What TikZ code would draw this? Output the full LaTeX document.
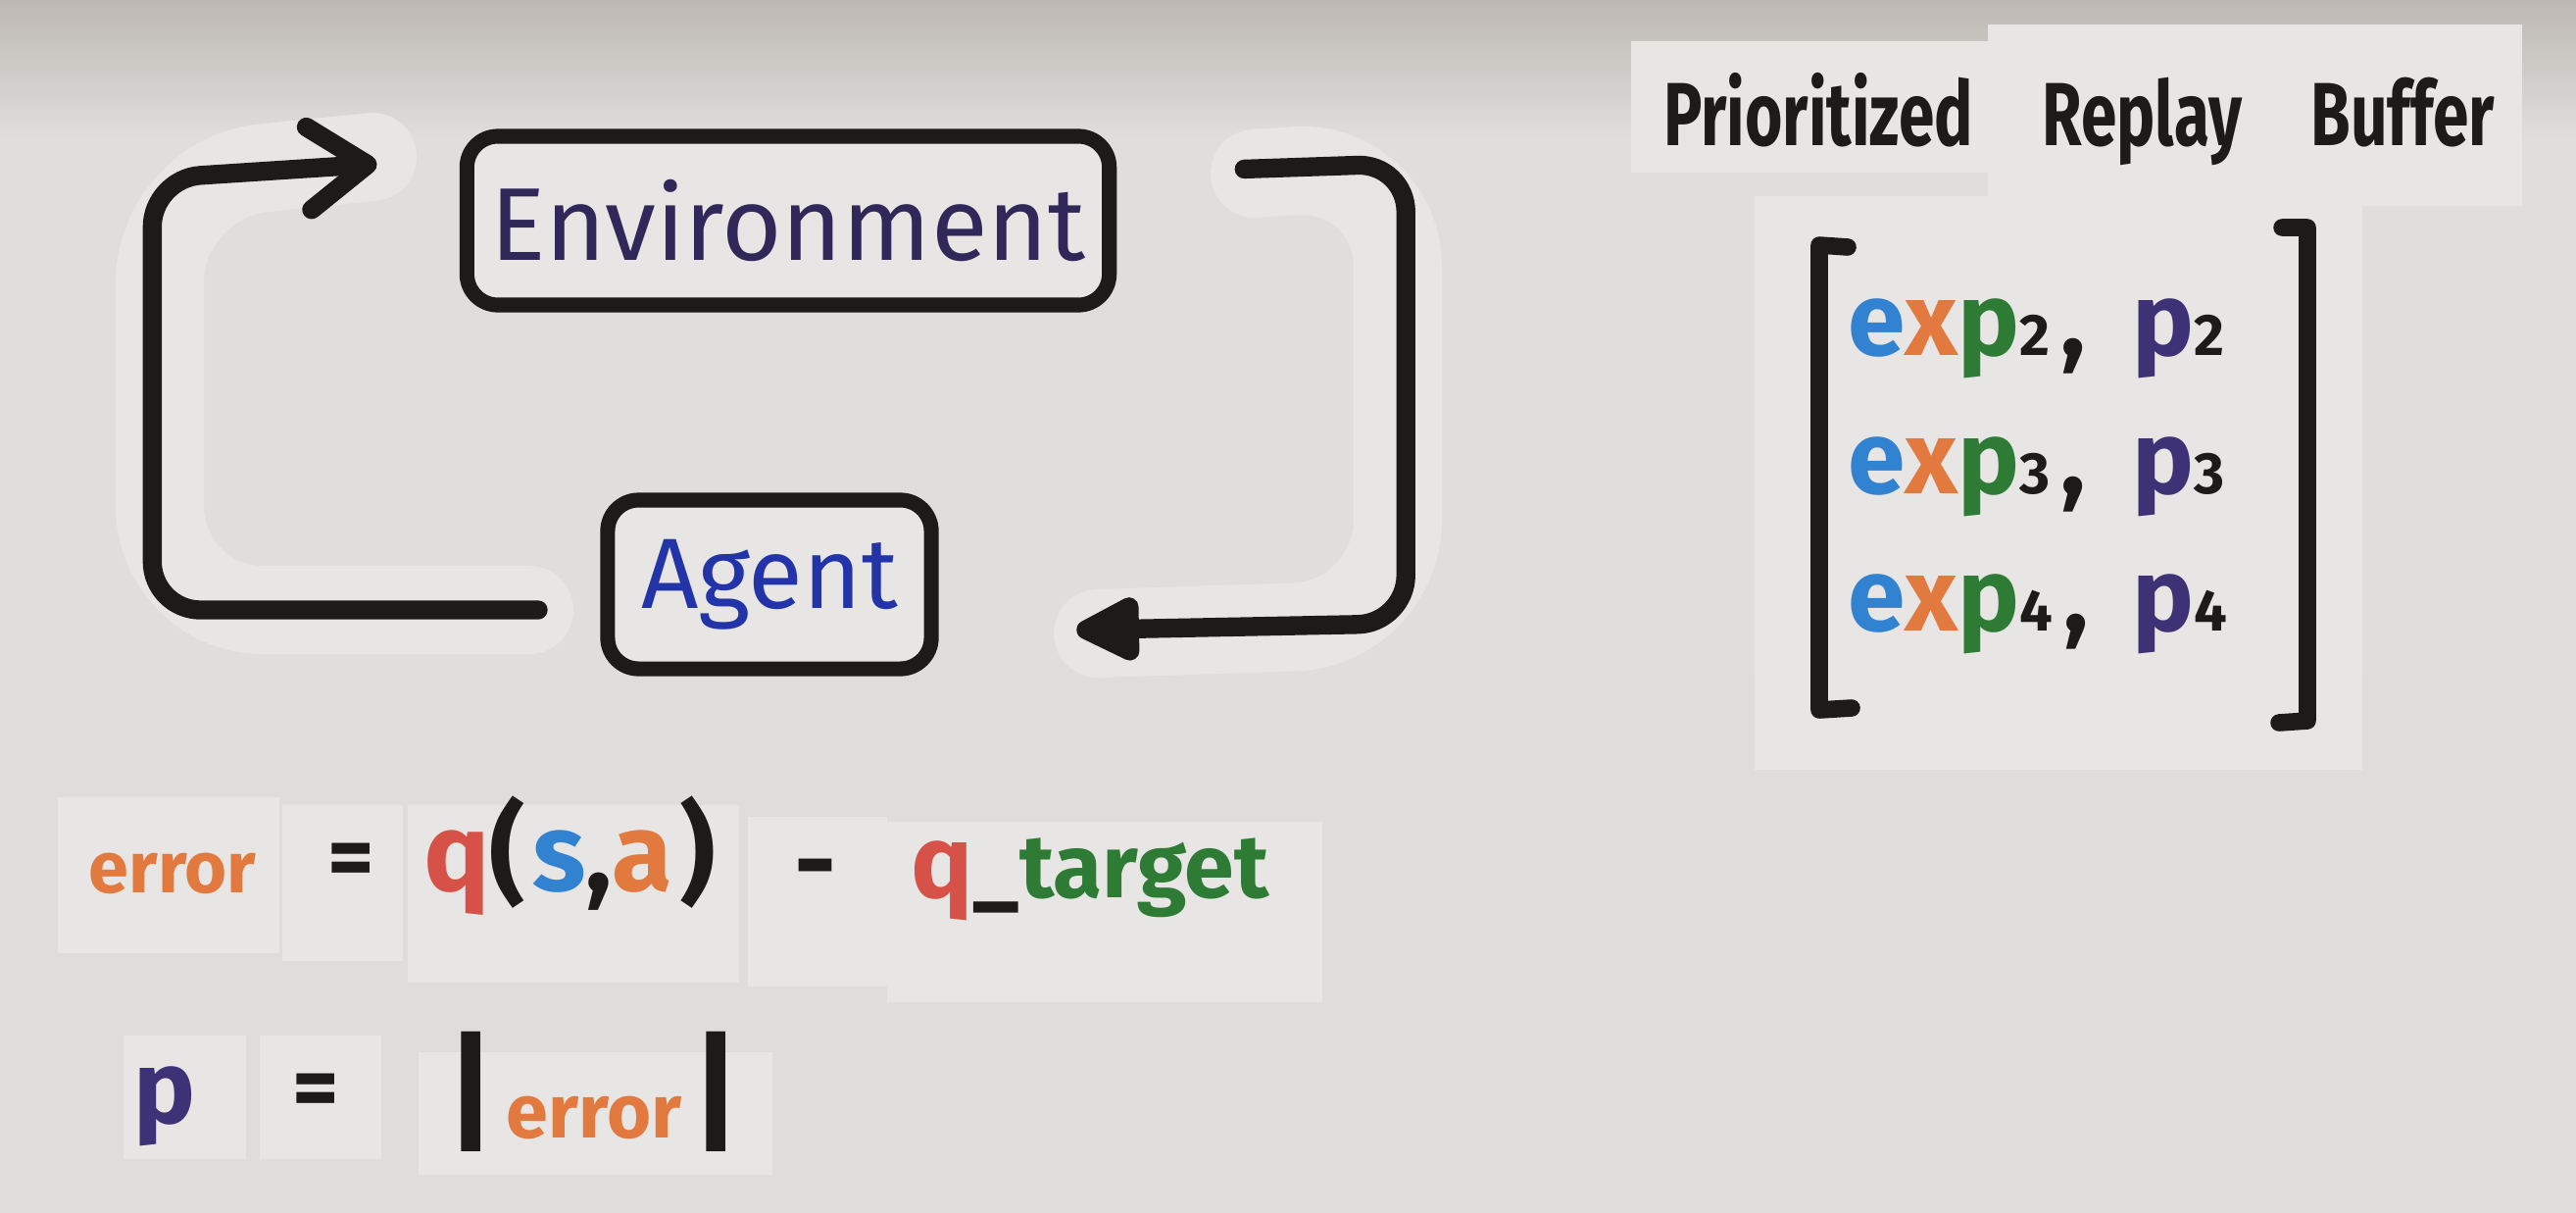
\documentclass[tikz,border=0pt]{standalone}
\usepackage{fontspec}
\setmainfont{Fira Sans}
\newfontfamily\narrowhand{Fira Sans}[FakeStretch=0.72]
\usetikzlibrary{arrows.meta,positioning}

\definecolor{wallTop}{HTML}{BDB8B3}
\definecolor{wallMid}{HTML}{DFDEDC}
\definecolor{wallBot}{HTML}{DEDDDB}
\definecolor{paper}{HTML}{E7E6E4}
\definecolor{ink}{HTML}{1E1A19}
\definecolor{envInk}{HTML}{2F2858}
\definecolor{agentInk}{HTML}{2333A8}
\definecolor{mBlue}{HTML}{3282D2}
\definecolor{mOrange}{HTML}{E27A40}
\definecolor{mGreen}{HTML}{2E7B36}
\definecolor{mRed}{HTML}{D65248}
\definecolor{mPurple}{HTML}{3E3276}

\newcommand\mk[1]{\fontsize{#1}{#1}\selectfont}
\newcommand\sub[1]{{\color{ink}\mk{17}#1}}

\tikzset{
  card/.style={fill=paper},
  paperstrip/.style={draw=paper, line width=0.9cm, rounded corners=30pt, line cap=round, line join=round},
  box/.style={draw=ink, line width=4.3pt, rounded corners=9pt, fill=paper, inner sep=0pt},
  flow/.style={draw=ink, line width=5.5pt, rounded corners=14pt, line cap=round},
  bracket/.style={draw=ink, line width=5pt, line cap=round, line join=round},
  marker/.style={inner sep=0pt, font=\bfseries}
}

\begin{document}
\begin{tikzpicture}[x=0.01cm, y=-0.01cm]
  \useasboundingbox (0,0) rectangle (2628,1236);
  \shade[top color=wallTop, bottom color=wallMid] (0,0) rectangle (2628,140);
  \shade[top color=wallMid, bottom color=wallBot] (0,140) rectangle (2628,1236);

  % paper cut-outs behind the drawing
  \draw[paperstrip] (540,622) -- (163,622) -- (163,182) -- (380,160);
  \draw[paperstrip] (1280,177) -- (1426,167) -- (1426,636) -- (1120,646);
  \foreach \xa/\ya/\xb/\yb in {1664/42/2028/176, 2028/25/2573/210, 1790/200/2410/785,
      59/813/285/972, 288/821/411/980, 416/821/754/1002, 763/833/905/1006, 905/838/1349/1022,
      126/1056/251/1182, 265/1056/389/1182, 427/1073/788/1198}
    \fill[card] (\xa,\ya) rectangle (\xb,\yb);

  % loop
  \node[box, minimum width=6.55cm, minimum height=1.72cm, text=envInk, font=\mk{30}] (env) at (804,225) {Environment};
  \node[box, minimum width=3.3cm, minimum height=1.72cm, text=agentInk, font=\mk{29}] (agent) at (785,596) {Agent};

  \draw[flow, -{Straight Barb[length=17pt, width=24pt, round]}, shorten <=18pt, shorten >=24pt]
    ([yshift=-7.4pt]agent.west) -- ++(-457,0) -- ++(0,-440) -- ([yshift=18pt]env.west);
  \draw[flow, -{Triangle[length=22pt, width=20pt, round]}, shorten <=37pt, shorten >=40pt]
    ([yshift=13.7pt]env.east) -- ++(295,-10) -- ++(0,469) -- ([yshift=-14pt]agent.east);

  % buffer
  \node[marker, font=\narrowhand\bfseries\mk{26}, text=ink] (title) at (2121,122)
    {Prioritized\hspace{20pt}Replay\hspace{20pt}Buffer};

  \draw[bracket] (1885,252) -- (1856,250) -- (1856,724) -- (1889,722);
  \draw[bracket] (2328,232) -- (2354,232) -- (2354,735) -- (2325,737);

  \foreach \i/\y in {2/362, 3/503, 4/643} {
    \node[marker, anchor=base west, font=\bfseries\mk{30}] (exp\i) at (1885,\y)
      {{\color{mBlue}e}{\color{mOrange}x}{\color{mGreen}p}\sub{\i}\hspace{3pt}{\color{ink},}};
    \node[marker, anchor=base west, font=\bfseries\mk{30}, text=mPurple] (prio\i) at (2175,\y) {p\sub{\i}};
  }

  % formulas
  \node[marker, anchor=base, text=mOrange, font=\bfseries\mk{21}] (err) at (176,910) {error};
  \node[marker, anchor=base, text=ink, font=\bfseries\mk{26}] (eqa) at (358,905) {=};
  \node[marker, anchor=base, font=\bfseries\mk{32}] (qsa) at (581,908)
    {{\color{mRed}q}{\color{ink}(}\hspace{2pt}{\color{mBlue}s}{\color{ink},}{\color{mOrange}a}\hspace{2pt}{\color{ink})}};
  \node[marker, anchor=base, text=ink, font=\bfseries\mk{30}] (minus) at (832,915) {-};
  \node[marker, anchor=base, font=\bfseries\mk{26}] (qtarget) at (1112,915)
    {{\color{mRed}\mk{30}q}{\color{ink}\_}{\color{mGreen}target}};

  \node[marker, anchor=base, text=mPurple, font=\bfseries\mk{30}] (prio) at (168,1145) {p};
  \node[marker, anchor=base, text=ink, font=\bfseries\mk{26}] (eqb) at (322,1140) {=};
  \node[marker, anchor=base, font=\bfseries\mk{22}] (abserr) at (606,1160)
    {{\color{ink}\mk{38}|}\hspace{3pt}{\color{mOrange}error}\hspace{3pt}{\color{ink}\mk{38}|}};
\end{tikzpicture}
\end{document}
